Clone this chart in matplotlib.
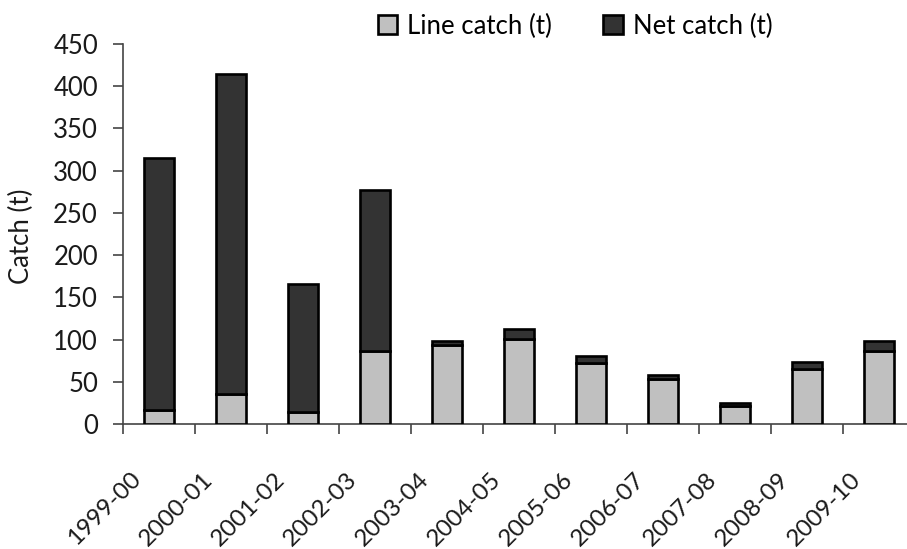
import matplotlib
matplotlib.use("Agg")
import matplotlib.pyplot as plt
import matplotlib.transforms as mtransforms
from matplotlib.patches import Patch
import numpy as np

seasons = ["1999-00", "2000-01", "2001-02", "2002-03", "2003-04", "2004-05",
           "2005-06", "2006-07", "2007-08", "2008-09", "2009-10"]
line_catch = [17, 36, 14, 86, 93, 101, 72, 53, 21, 65, 86]
net_catch = [298, 379, 152, 191, 5, 11, 8, 5, 4, 8, 12]
yticks = [0, 50, 100, 150, 200, 250, 300, 350, 400, 450]

FONT = "Lato"
FS = 18.5
FSX = 17.5
TXT = "#1a1a1a"
plt.rcParams["font.family"] = [FONT, "DejaVu Sans"]

fig = plt.figure(figsize=(9.07, 5.49), dpi=100)
ax = fig.add_axes([123/907, 125/549, 792/907, 380/549])

x = np.arange(len(seasons))
w = 0.42
ax.bar(x, line_catch, width=w, color="#C0C0C0", edgecolor="black", linewidth=1.9, zorder=3)
ax.bar(x, net_catch, width=w, bottom=line_catch, color="#333333", edgecolor="black",
       linewidth=1.9, zorder=3)

ax.set_xlim(-0.5, len(seasons) - 0.5)
ax.set_ylim(0, 450)
ax.set_yticks(yticks)
ax.set_yticklabels([str(v) for v in yticks], fontsize=FS, color=TXT)

ax.set_xticks(np.arange(len(seasons) + 1) - 0.5)
ax.set_xticklabels([])
ax.set_xticks(x, minor=True)
ax.set_xticklabels(seasons, minor=True, rotation=45, ha="right", rotation_mode="anchor",
                   fontsize=FSX, color=TXT)
ax.tick_params(axis="x", which="minor", length=0, pad=32)
ax.tick_params(axis="x", which="major", direction="out", length=7, width=1.2, color="#444444")
ax.tick_params(axis="y", direction="out", length=7, width=1.2, color="#444444", pad=11)
offset = mtransforms.ScaledTranslation(-29/100, 0, fig.dpi_scale_trans)
for lab in ax.get_xticklabels(minor=True):
    lab.set_transform(lab.get_transform() + offset)

for s in ["top", "right"]:
    ax.spines[s].set_visible(False)
for s in ["left", "bottom"]:
    ax.spines[s].set_linewidth(1.2)
    ax.spines[s].set_color("#444444")

fig.text(21/907, 1 - 236/549, "Catch (t)", rotation=90, ha="center", va="center",
         fontsize=FS, color=TXT)

handles = [Patch(facecolor="#C0C0C0", edgecolor="black", linewidth=1.9),
           Patch(facecolor="#333333", edgecolor="black", linewidth=1.9)]
fig.legend(handles, ["Line catch (t)", "Net catch (t)"], loc="center",
           bbox_to_anchor=(575/907, 1 - 26/549), ncol=2, frameon=False, fontsize=FS,
           handlelength=0.75, handleheight=0.75, handletextpad=0.4, columnspacing=2.0)

fig.savefig("out.png", dpi=100)
